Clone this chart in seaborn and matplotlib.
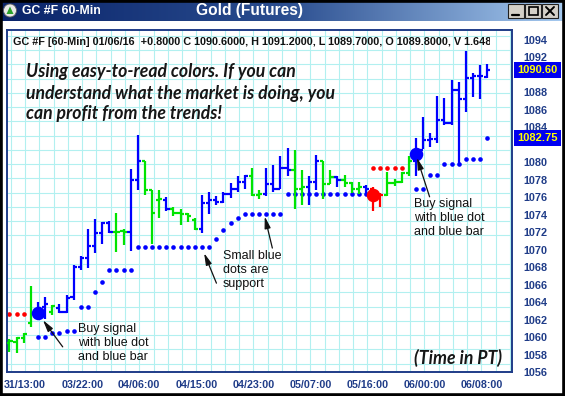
import numpy as np
import pandas as pd
import matplotlib
matplotlib.use("Agg")
import matplotlib.pyplot as plt
import seaborn as sns
from matplotlib.patches import Rectangle, Circle, Polygon
from matplotlib.colors import LinearSegmentedColormap
from matplotlib.ticker import FixedLocator
from matplotlib.transforms import Bbox, TransformedBbox

# ---------------- data (hourly OHLC bars, index 0..67) ----------------
opens = [1059.3, 1059.4, 1059.9, 1061.6, 1062.6, 1063.4, 1062.9, 1063.3, 1062.9, 1064.6,
         1068.0, 1069.0, 1070.4, 1071.9, 1073.1, 1072.0, 1072.1, 1072.0, 1078.0, 1080.1,
         1076.8, 1075.7, 1075.7, 1074.7, 1074.2, 1074.1, 1073.4, 1072.4, 1075.3, 1075.7,
         1075.5, 1076.4, 1077.0, 1077.8, 1078.4, 1076.3, 1076.4, 1077.5, 1077.0, 1079.3,
         1079.1, 1077.0, 1077.2, 1077.7, 1080.1, 1077.5, 1078.3, 1078.0, 1077.6, 1077.0,
         1077.2, 1076.9, 1076.0, 1076.3, 1077.6, 1077.8, 1078.8, 1080.1, 1081.4, 1082.6,
         1082.7, 1084.8, 1084.5, 1088.3, 1087.2, 1089.6, 1089.9, 1089.8]
highs = [1059.8, 1060.0, 1060.5, 1065.8, 1064.0, 1064.6, 1063.7, 1063.8, 1064.8, 1068.3,
         1069.3, 1072.4, 1073.5, 1073.2, 1073.3, 1074.2, 1072.4, 1079.2, 1083.1, 1080.1,
         1076.8, 1076.8, 1076.0, 1074.9, 1074.7, 1074.2, 1073.6, 1076.3, 1076.6, 1076.1,
         1076.6, 1077.6, 1078.4, 1078.6, 1079.3, 1076.8, 1079.3, 1079.7, 1080.7, 1081.6,
         1081.4, 1079.1, 1078.4, 1080.8, 1080.1, 1079.1, 1078.4, 1078.6, 1077.8, 1077.7,
         1077.4, 1077.2, 1076.5, 1078.9, 1078.1, 1078.9, 1080.7, 1082.8, 1085.2, 1083.4,
         1087.6, 1087.4, 1089.4, 1089.2, 1092.7, 1090.2, 1091.1, 1091.2]
lows = [1058.3, 1058.2, 1059.3, 1061.2, 1062.1, 1062.1, 1062.5, 1062.8, 1062.8, 1064.2,
        1067.7, 1067.9, 1069.6, 1070.7, 1071.9, 1069.7, 1070.5, 1069.9, 1076.8, 1076.3,
        1070.7, 1073.6, 1074.4, 1073.8, 1072.8, 1073.2, 1072.3, 1071.9, 1074.1, 1075.1,
        1075.3, 1075.9, 1076.6, 1077.0, 1076.1, 1075.8, 1076.1, 1076.6, 1077.0, 1078.4,
        1074.7, 1075.1, 1075.1, 1076.8, 1075.8, 1077.5, 1077.2, 1077.2, 1076.5, 1076.4,
        1076.2, 1074.4, 1074.9, 1076.1, 1077.3, 1077.6, 1078.4, 1078.4, 1081.5, 1081.8,
        1082.2, 1084.3, 1084.3, 1079.6, 1085.8, 1087.5, 1087.3, 1089.7]
closes = [1059.5, 1059.9, 1060.3, 1062.7, 1063.3, 1063.8, 1063.5, 1062.9, 1064.5, 1068.0,
          1069.0, 1070.4, 1071.9, 1073.1, 1072.0, 1072.0, 1072.0, 1078.0, 1080.1, 1076.8,
          1074.2, 1075.8, 1074.7, 1074.2, 1074.1, 1073.9, 1072.4, 1075.3, 1075.7, 1075.5,
          1076.4, 1077.0, 1077.8, 1078.4, 1076.3, 1076.4, 1077.5, 1076.9, 1079.3, 1079.1,
          1077.0, 1077.2, 1077.7, 1080.1, 1077.5, 1078.3, 1078.0, 1077.6, 1077.0, 1077.2,
          1077.0, 1076.0, 1076.3, 1077.6, 1077.8, 1078.8, 1080.1, 1081.4, 1082.6, 1082.7,
          1084.8, 1084.5, 1088.3, 1087.2, 1089.6, 1089.9, 1089.9, 1090.6]
bar_state = list("ggggbbgbbbbbbbbggbbgggbggggbbbbbbbggbbbbggbbggbgggbrrggggbbbbbbbbbbb")

support_x = [4, 5, 6, 7, 8, 9, 10, 11, 12, 13, 14, 15, 16, 17,
             18, 19, 20, 21, 22, 23, 24, 25, 26, 27, 28, 29, 30, 31, 32,
             33, 34, 35, 36, 37, 38, 39, 40, 41, 42, 43, 44, 45, 46, 47, 48, 49, 50,
             57, 58, 59, 60, 61, 62, 63, 64, 65, 66, 67]
support_y = [1059.95, 1059.95, 1060.5, 1060.5, 1060.7, 1060.7, 1063.4, 1063.4, 1065.1, 1066.3,
             1067.7, 1067.7, 1067.7, 1067.7,
             1070.3, 1070.3, 1070.3, 1070.3, 1070.3, 1070.3, 1070.3, 1070.3, 1070.3, 1070.3, 1070.3,
             1071.2, 1072.25, 1073.1, 1073.6,
             1074.1, 1074.1, 1074.1, 1074.1, 1074.1, 1074.1,
             1076.4, 1076.4, 1076.4, 1076.4, 1076.4, 1076.4, 1076.4, 1076.4, 1076.4, 1076.4, 1076.4, 1076.4,
             1077.0, 1077.0, 1078.55, 1078.55, 1079.8, 1079.8, 1079.8, 1080.4, 1080.4, 1080.4, 1082.75]
resist_x = [0, 1, 2, 51, 52, 53, 54, 55]
resist_y = [1062.65, 1062.65, 1062.65, 1079.3, 1079.3, 1079.3, 1079.3, 1079.3]
buy_x = [4, 57]
buy_y = [1062.7, 1080.9]
sell_x = [51]
sell_y = [1076.3]

tick_labels = ["31/13:00", "03/22:00", "04/06:00", "04/15:00", "04/23:00",
               "05/07:00", "05/16:00", "06/00:00", "06/08:00"]
label_bars = [2, 10, 18, 26, 34, 42, 50, 58, 66]
y_labels = list(range(1056, 1095, 2))
last_price = 1090.60
stop_price = 1082.75
header = ("GC #F [60-Min] 01/06/16  +0.8000 C 1090.6000, H 1091.2000, "
          "L 1089.7000, O 1089.8000, V 1.648")

# ---------------- styling ----------------
sns.set_style("white")
plt.rcParams["font.family"] = ["Liberation Sans", "DejaVu Sans"]

W, H = 565, 396
NAVY = "#1f3c88"
BLUE = "#0000ff"
GREEN = "#00e400"
RED = "#ff0000"
colmap = {"b": BLUE, "g": GREEN, "r": RED}

fig = plt.figure(figsize=(W / 100, H / 100), dpi=100)
fig.patch.set_facecolor("white")

# background / window chrome axes (pixel coordinates)
bg = fig.add_axes([0, 0, 1, 1], zorder=0)
bg.set_xlim(0, W)
bg.set_ylim(H, 0)
bg.axis("off")
grad_cmap = LinearSegmentedColormap.from_list("tb", ["#0a246a", "#2a4d8f", "#a6caf0"])
bg.imshow(np.linspace(0, 1, 256)[None, :], cmap=grad_cmap, aspect="auto",
          extent=[0, W, 21, 0], zorder=1)
bg.add_patch(Circle((10, 10.5), 6.5, facecolor="#e8e8e8", edgecolor="#606060", lw=0.6, zorder=2))
bg.add_patch(Polygon([[6.5, 14], [13.5, 14], [10, 6.5]], closed=True,
                     facecolor="#2aa02a", edgecolor="none", zorder=3))
for bx in (508, 525, 542):
    bg.add_patch(Rectangle((bx, 4), 16, 14, facecolor="#d4d0c8", edgecolor="#202020",
                           lw=0.8, zorder=2))
bg.plot([512, 519], [14.5, 14.5], color="black", lw=1.6, zorder=3)
bg.add_patch(Rectangle((528.5, 7), 9, 8, facecolor="none", edgecolor="black", lw=1.2, zorder=3))
bg.plot([546, 554], [7, 15], color="black", lw=1.4, zorder=3)
bg.plot([546, 554], [15, 7], color="black", lw=1.4, zorder=3)
bg.add_patch(Rectangle((1.2, 1.2), W - 2.4, H - 2.4, facecolor="none",
                       edgecolor="black", lw=2.6, zorder=4))

# ---------------- main price axes ----------------
ax = fig.add_axes([7 / W, 1 - 372 / H, 505 / W, 342 / H], zorder=2)
ax.set_facecolor("white")
ax.set_xlim(-0.35, 70.48)
ax.set_ylim(1056.0, 1095.14)

df = pd.DataFrame({"x": np.arange(len(opens)), "open": opens, "high": highs,
                   "low": lows, "close": closes, "state": bar_state})
df["color"] = df["state"].map(colmap)

# ticks & grid
xticks = np.arange(0.2, 71, 2)
ax.xaxis.set_major_locator(FixedLocator(xticks))
lab_map = {round(b + 0.2, 1): t for b, t in zip(label_bars, tick_labels)}
ax.set_xticklabels([lab_map.get(round(t, 1), "") for t in xticks])
ax.yaxis.tick_right()
ax.yaxis.set_major_locator(FixedLocator(y_labels))
hidden = {int(round(last_price)) // 2 * 2, int(stop_price) // 2 * 2}  # covered by price boxes
ax.set_yticklabels(["" if v in hidden else str(v) for v in y_labels])
hgrid = 1070 + 1.632 * np.arange(-9, 16)
ax.yaxis.set_minor_locator(FixedLocator(hgrid))
ax.grid(axis="x", which="major", color="#b2f0f0", lw=0.8, zorder=0)
ax.grid(axis="y", which="minor", color="#b2f0f0", lw=0.8, zorder=0)
ax.grid(axis="y", which="major", visible=False)
ax.set_axisbelow(True)
ax.tick_params(axis="x", which="major", direction="out", length=3.5, width=1.2,
               color=NAVY, labelsize=7.7, labelcolor=NAVY, pad=2.5)
ax.tick_params(axis="y", which="both", length=0, labelsize=7.8, labelcolor=NAVY, pad=8)
for lab in ax.get_xticklabels() + ax.get_yticklabels():
    lab.set_fontweight("bold")
for s in ax.spines.values():
    s.set_color(NAVY)
    s.set_linewidth(1.4)

# support / resistance dots
sns.scatterplot(x=support_x, y=support_y, color=BLUE, s=11, linewidth=0, ax=ax, zorder=2)
sns.scatterplot(x=resist_x, y=resist_y, color=RED, s=11, linewidth=0, ax=ax, zorder=2)

# OHLC bars
tw = 0.45
ax.vlines(df["x"], df["low"], df["high"], colors=df["color"], lw=1.6, zorder=3)
ax.hlines(df["open"], df["x"] - tw, df["x"], colors=df["color"], lw=1.6, zorder=3)
ax.hlines(df["close"], df["x"], df["x"] + tw, colors=df["color"], lw=1.6, zorder=3)

# signal dots
sns.scatterplot(x=buy_x, y=buy_y, color=BLUE, s=95, linewidth=0, ax=ax, zorder=4)
sns.scatterplot(x=sell_x, y=sell_y, color=RED, s=95, linewidth=0, ax=ax, zorder=4)
ax.set_xlabel("")
ax.set_ylabel("")

# arrows
ap = dict(arrowstyle="-|>,head_length=0.7,head_width=0.18", color="#111111", lw=0.9,
          shrinkA=0)
ax.annotate("", xy=(buy_x[0], buy_y[0]), xytext=(24.7, -33.4), textcoords="offset pixels",
            arrowprops=dict(ap, shrinkB=6.0), zorder=5)
ax.annotate("", xy=(buy_x[1], buy_y[1]), xytext=(13.7, -42.4), textcoords="offset pixels",
            arrowprops=dict(ap, shrinkB=2.5), zorder=5)
ax.annotate("", xy=(27.3, 1069.6), xytext=(12.3, -30), textcoords="offset pixels",
            arrowprops=dict(ap, shrinkB=0), zorder=5)
ax.annotate("", xy=(35.8, 1073.8), xytext=(7.6, -31.6), textcoords="offset pixels",
            arrowprops=dict(ap, shrinkB=0), zorder=5)

# overlay axes for price boxes (on top of the axis labels)
top = fig.add_axes([0, 0, 1, 1], zorder=3)
top.set_xlim(0, W)
top.set_ylim(H, 0)
top.axis("off")
top.patch.set_alpha(0)

# ---------------- texts ----------------
def ftext(x, y, s, **kw):
    return fig.text(x / W, 1 - y / H, s, **kw)

ftext(22, 11, "GC #F 60-Min", color="white", fontsize=8.8, fontweight="bold", va="center")
ftext(250, 11, "Gold (Futures)", color="white", fontsize=11.2, fontweight="bold",
      va="center", ha="center")

ht = ftext(13, 42, header, color="#111111", fontsize=7.8, fontweight="bold", va="center",
           zorder=6)
ht.set_clip_box(TransformedBbox(Bbox.from_extents(0, 0, 490 / W, 1), fig.transFigure))
ht.set_clip_on(True)

big = dict(family=["Lato", "DejaVu Sans"], style="italic", fontweight="bold",
           fontsize=12.7, color="#161616", va="center", zorder=6)
ftext(26, 72, "Using easy-to-read colors. If you can", **big)
ftext(26, 93, "understand what the market is doing, you", **big)
ftext(26, 114, "can profit from the trends!", **big)
ftext(414, 358, "(Time in PT)", **big)

ann = dict(fontsize=9, color="#111111", va="center", zorder=6, linespacing=1.25)
ftext(78, 343, "Buy signal\nwith blue dot\nand blue bar", **ann)
ftext(223, 270, "Small blue\ndots are\nsupport", **ann)
ftext(414, 218, "Buy signal\nwith blue dot\nand blue bar", **ann)

# price boxes on right axis
for price in (last_price, stop_price):
    yy = 40 + (1094 - price) * 8.737
    top.add_patch(Rectangle((514, yy - 8), 47, 16, facecolor="#0000f0", edgecolor="none",
                            zorder=3))
    top.text(537.5, yy, f"{price:.2f}", color="#ffff00", fontsize=8, fontweight="bold",
             ha="center", va="center", zorder=7)

fig.savefig("out.png", dpi=100)
